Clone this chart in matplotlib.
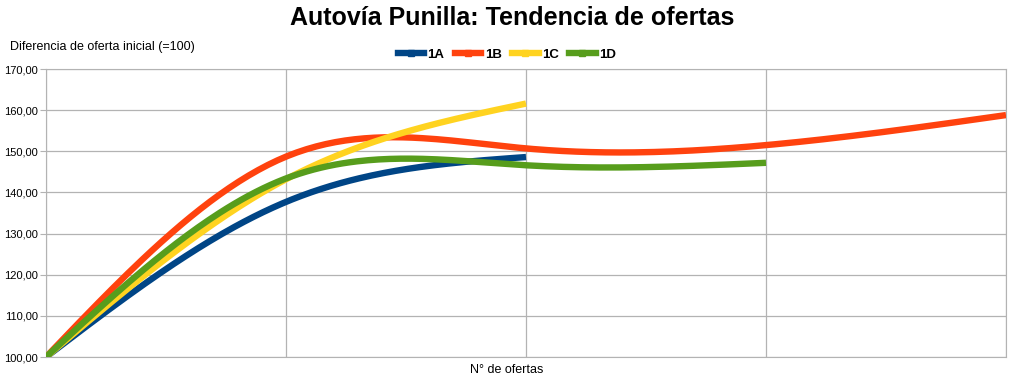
import numpy as np
import matplotlib.pyplot as plt

plt.rcParams['font.family'] = ['Liberation Sans', 'DejaVu Sans']

series_names = ['1A', '1B', '1C', '1D']
series_values = [
    [100, 137.7, 148.6],
    [100, 148.7, 150.7, 151.5, 158.8],
    [100, 143.2, 161.6],
    [100, 143.4, 146.6, 147.2],
]
colors = ['#004586', '#ff420e', '#ffd320', '#579d1c']
y_ticks = [100, 110, 120, 130, 140, 150, 160, 170]


def natural_spline(x, y, n=200):
    # natural cubic spline, like the office "cubic spline" smoothing
    x = np.asarray(x, float)
    y = np.asarray(y, float)
    k = len(x)
    if k < 3:
        xs = np.linspace(x[0], x[-1], n)
        return xs, np.interp(xs, x, y)
    h = np.diff(x)
    A = np.zeros((k, k))
    b = np.zeros(k)
    A[0, 0] = A[-1, -1] = 1
    for i in range(1, k - 1):
        A[i, i - 1] = h[i - 1]
        A[i, i] = 2 * (h[i - 1] + h[i])
        A[i, i + 1] = h[i]
        b[i] = 6 * ((y[i + 1] - y[i]) / h[i] - (y[i] - y[i - 1]) / h[i - 1])
    M = np.linalg.solve(A, b)
    xs = np.linspace(x[0], x[-1], n)
    ys = np.empty_like(xs)
    for j, t in enumerate(xs):
        i = min(np.searchsorted(x, t, side='right') - 1, k - 2)
        dx1 = x[i + 1] - t
        dx0 = t - x[i]
        ys[j] = (M[i] * dx1 ** 3 + M[i + 1] * dx0 ** 3) / (6 * h[i]) \
            + (y[i] / h[i] - M[i] * h[i] / 6) * dx1 \
            + (y[i + 1] / h[i] - M[i + 1] * h[i] / 6) * dx0
    return xs, ys


fig = plt.figure(figsize=(10.24, 3.82), dpi=100)
ax = fig.add_axes([46 / 1024, 1 - 357 / 382, 960 / 1024, 288 / 382])

for name, vals, c in zip(series_names, series_values, colors):
    xp = np.arange(1, len(vals) + 1)
    xs, ys = natural_spline(xp, vals)
    ax.plot(xs, ys, color=c, lw=4.6, solid_capstyle='butt', zorder=3)
    ax.plot([], [], color=c, lw=4.6, marker='s', markersize=5, label=name)

ax.set_xlim(1, 5)
ax.set_ylim(100, 170)
ax.set_xticks([1, 2, 3, 4, 5])
ax.set_xticklabels([])
ax.set_yticks(y_ticks)
ax.set_yticklabels([f'{v:.2f}'.replace('.', ',') for v in y_ticks], fontsize=8)
ax.tick_params(axis='x', length=0)
ax.tick_params(axis='y', length=4, color='#b3b3b3', pad=2)
ax.grid(True, color='#b3b3b3', lw=0.9)
for s in ax.spines.values():
    s.set_color('#b3b3b3')

ax.set_xlabel('N° de ofertas', fontsize=9, labelpad=2)
ax.xaxis.set_label_coords(0.48, -0.025, transform=ax.transAxes)
ax.xaxis.label.set_va('top')
fig.text(10 / 1024, 1 - 47 / 382, 'Diferencia de oferta inicial (=100)',
         fontsize=9, va='center', ha='left')
fig.suptitle('Autovía Punilla: Tendencia de ofertas', fontsize=18,
             fontweight='bold', y=1 - 18 / 382, va='center')

ax.legend(loc='center', bbox_to_anchor=(0.48, 1.049), ncol=4, frameon=False,
          prop={'weight': 'bold', 'size': 9.5}, handlelength=2.0,
          handletextpad=0.25, columnspacing=0.8, borderaxespad=0)

fig.savefig('out.png', dpi=100)
